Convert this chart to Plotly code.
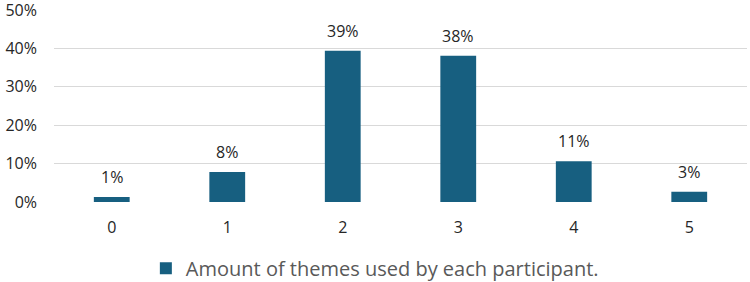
import plotly.graph_objects as go

categories = ["0", "1", "2", "3", "4", "5"]
shares = [0.013, 0.078, 0.394, 0.381, 0.106, 0.027]
series_name = "Amount of themes used by each participant."
y_ticks = [0, 0.1, 0.2, 0.3, 0.4, 0.5]

bar_color = "#175f80"
font_family = "'Open Sans', sans-serif"

fig = go.Figure()
fig.add_trace(go.Bar(
    x=categories, y=shares, name=series_name,
    marker=dict(color=bar_color, line=dict(width=0)),
    showlegend=True,
))
for c, v in zip(categories, shares):
    fig.add_annotation(x=c, y=v, text=f"{round(v*100)}%", showarrow=False,
                       yanchor="bottom", yshift=7,
                       font=dict(size=16, color="#262626", family=font_family))

fig.update_layout(
    width=750, height=282,
    margin=dict(l=54, r=3, t=10, b=80, autoexpand=False),
    paper_bgcolor="white", plot_bgcolor="white",
    bargap=0.69,
    font=dict(family=font_family, size=16, color="#404040"),
    xaxis=dict(showgrid=False, zeroline=False, showline=False,
               tickfont=dict(size=16, color="#262626"), ticks="", ticklen=0,
               ticklabelstandoff=14),
    yaxis=dict(range=[0, 0.5], tickvals=y_ticks, tickformat=".0%",
               showgrid=True, gridcolor="#d9d9d9", gridwidth=1.3,
               zeroline=False, showline=False, ticklabeloverflow="allow",
               tickfont=dict(size=16, color="#262626"), ticks="", ticklen=0,
               ticklabelstandoff=16),
    legend=dict(orientation="h", x=0.463, xanchor="center", y=-0.345, yanchor="middle",
                itemwidth=30,
                font=dict(size=20, color="#595959")),
)
fig.write_html("out.html")
